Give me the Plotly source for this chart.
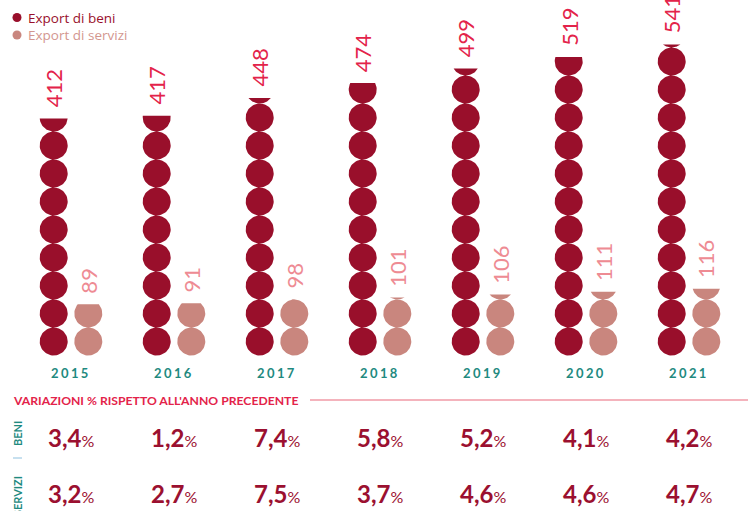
import numpy as np
import plotly.graph_objects as go

# ---------------- data ----------------
years = ["2015", "2016", "2017", "2018", "2019", "2020", "2021"]
export_beni = [412, 417, 448, 474, 499, 519, 541]
export_servizi = [89, 91, 98, 101, 106, 111, 116]
var_beni = ["3,4", "1,2", "7,4", "5,8", "5,2", "4,1", "4,2"]
var_servizi = ["3,2", "2,7", "7,5", "3,7", "4,6", "4,6", "4,7"]
series_names = ["Export di beni", "Export di servizi"]
row_labels = ["BENI", "SERVIZI"]
header_text = "VARIAZIONI % RISPETTO ALL'ANNO PRECEDENTE"
UNIT = 48.7  # value represented by one full circle

# ---------------- layout constants (pixels) ----------------
W, H = 753, 511
GROUP_X0, GROUP_STEP = 71.0, 103.0
PAIR_OFF = 17.3
DIAM = 28.0
BASE_Y = 355.5

C_BENI = "#990f2b"
C_SERV = "#c9867e"
C_LBL_BENI = "#e3234a"
C_LBL_SERV = "#ee8b93"
C_TEAL = "#1f8a7f"
C_PCT = "#9b1030"
FONT = "Lato"

xu = 1.0 / GROUP_STEP          # data units per px (x)
yu = UNIT / DIAM               # data units per px (y)
x_range = [-GROUP_X0 * xu, (W - GROUP_X0) * xu]
y_range = [-(H - BASE_Y) * yu, BASE_Y * yu]


def py(px):
    return 1 - px / H


def px_(px):
    return px / W


def column_polys(xc, value):
    xs, ys = [], []
    rx = DIAM / 2 * xu
    ry = UNIT / 2
    k = 0
    while k * UNIT < value:
        yc = (k + 0.5) * UNIT
        s = (value - yc) / ry
        if s >= 1:
            t = np.linspace(0, 2 * np.pi, 61)
        else:
            a = np.arcsin(s)
            t = np.linspace(a, -np.pi - a, 41)
        cx = xc + rx * np.cos(t)
        cy = yc + ry * np.sin(t)
        xs += list(cx) + [cx[0], None]
        ys += list(cy) + [cy[0], None]
        k += 1
    return xs, ys


fig = go.Figure()
off = PAIR_OFF * xu
for vals, col, name, sign in [(export_beni, C_BENI, series_names[0], -1),
                              (export_servizi, C_SERV, series_names[1], 1)]:
    X, Y = [], []
    for i, v in enumerate(vals):
        xs, ys = column_polys(i + sign * off, v)
        X += xs
        Y += ys
    fig.add_trace(go.Scatter(x=X, y=Y, mode="lines", fill="toself",
                             fillcolor=col, line=dict(width=0, color=col),
                             hoverinfo="skip", showlegend=False, name=name))

annotations = []
# value labels
for vals, col, sign in [(export_beni, C_LBL_BENI, -1), (export_servizi, C_LBL_SERV, 1)]:
    for i, v in enumerate(vals):
        annotations.append(dict(x=i + sign * off, y=v, xref="x", yref="y",
                                text=str(v), textangle=-90, showarrow=False,
                                xanchor="center", yanchor="bottom", yshift=9,
                                font=dict(family=FONT, size=22, color=col)))
# year labels
for i, yr in enumerate(years):
    annotations.append(dict(x=i, y=py(373), xref="x", yref="paper",
                            text="<b><span style='letter-spacing:2.4px'>" + yr + "</span></b>",
                            showarrow=False, xanchor="center", yanchor="middle",
                            font=dict(family=FONT, size=13, color=C_TEAL)))
# legend
legend_cols = [C_BENI, "#d3968f"]
shapes = []
for j, (nm, col) in enumerate(zip(series_names, legend_cols)):
    yy = 17.5 + j * 17.5
    shapes.append(dict(type="circle", xref="paper", yref="paper",
                       x0=px_(12.5), x1=px_(21.5), y0=py(yy + 4.5), y1=py(yy - 4.5),
                       fillcolor=[C_BENI, C_SERV][j], line=dict(width=0)))
    annotations.append(dict(x=px_(27), y=py(yy), xref="paper", yref="paper",
                            text=nm, showarrow=False, xanchor="left", yanchor="middle",
                            borderpad=0,
                            font=dict(family="Open Sans", size=13.5, color=col)))
# header
annotations.append(dict(x=px_(11), y=py(400.5), xref="paper", yref="paper",
                        text="<b>" + header_text + "</b>", showarrow=False,
                        xanchor="left", yanchor="middle",
                        font=dict(family=FONT, size=12.2, color="#e3234a")))
shapes.append(dict(type="line", xref="paper", yref="paper",
                   x0=px_(310), x1=px_(748), y0=py(400), y1=py(400),
                   line=dict(color="#f19aa6", width=1.5)))
# row labels
for lbl, yy in zip(row_labels, [434, 496]):
    annotations.append(dict(x=px_(17), y=py(yy), xref="paper", yref="paper",
                            text="<b>" + lbl + "</b>", textangle=-90, showarrow=False,
                            xanchor="center", yanchor="middle",
                            font=dict(family=FONT, size=11, color=C_TEAL)))
shapes.append(dict(type="line", xref="paper", yref="paper",
                   x0=px_(13), x1=px_(22), y0=py(458), y1=py(458),
                   line=dict(color="#b5d6ea", width=1.5)))
# percentage rows
for vals, yy in [(var_beni, 437), (var_servizi, 493)]:
    for i, v in enumerate(vals):
        annotations.append(dict(x=i, y=py(yy), xref="x", yref="paper",
                                text="<b>" + v + "</b><span style='font-size:16px'>%</span>",
                                showarrow=False, xanchor="center", yanchor="middle",
                                font=dict(family=FONT, size=24, color=C_PCT)))

fig.update_layout(
    width=W, height=H, margin=dict(l=0, r=0, t=0, b=0),
    paper_bgcolor="white", plot_bgcolor="white",
    xaxis=dict(range=x_range, visible=False, fixedrange=True),
    yaxis=dict(range=y_range, visible=False, fixedrange=True),
    annotations=annotations, shapes=shapes, showlegend=False,
)
fig.write_html("out.html", config={"displayModeBar": False},
               post_script="document.body.style.margin='0px';")
